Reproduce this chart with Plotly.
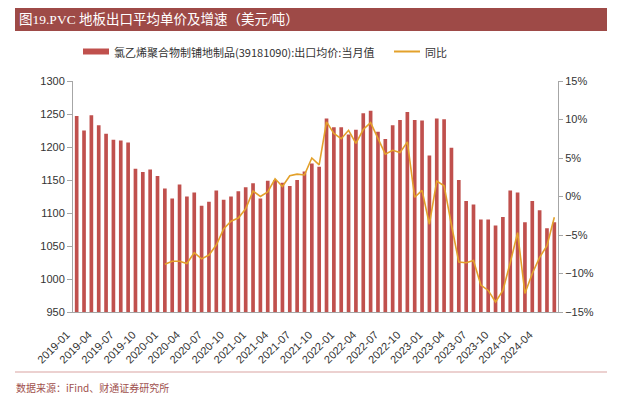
import plotly.graph_objects as go

# ---------------- data ----------------
months = [f"{y}-{m:02d}" for y in range(2019, 2025) for m in range(1, 13)][:66]

price = [1247, 1225, 1248, 1233, 1220, 1211, 1210, 1207, 1167, 1162, 1166, 1156,
         1137, 1122, 1143, 1125, 1131, 1111, 1117, 1134, 1120, 1125, 1133, 1139,
         1145, 1122, 1149, 1150, 1146, 1141, 1150, 1163, 1175, 1170, 1243, 1230,
         1230, 1219, 1226, 1251, 1255, 1223, 1212, 1233, 1241, 1253, 1241, 1240,
         1187, 1243, 1242, 1199, 1150, 1118, 1113, 1090, 1090, 1081, 1094, 1134,
         1131, 1086, 1118, 1104, 1077, 1086]

yoy = [None] * 12 + [
    -8.8, -8.4, -8.4, -8.7, -7.3, -8.1, -7.6, -6.3, -4.2, -3.2, -2.8, -1.6,
    0.7, 0.0, 0.6, 2.3, 1.3, 2.7, 2.9, 2.8, 5.0, 4.1, 9.7, 8.2,
    7.5, 8.6, 6.9, 8.7, 9.6, 7.5, 5.5, 6.0, 5.7, 7.1, -0.1, 0.8,
    -3.6, 2.0, 1.4, -3.7, -8.5, -8.6, -8.3, -11.5, -12.2, -13.7, -12.2, -8.6,
    -4.7, -12.6, -10.0, -7.9, -6.4, -2.7]

tick_labels = months[::3][:22]

bar_name = "氯乙烯聚合物制铺地制品(39181090):出口均价:当月值"
line_name = "同比"
title_text = "图19.PVC 地板出口平均单价及增速（美元/吨）"
source_text = "数据来源：iFind、财通证券研究所"

# ---------------- styling ----------------
W, H = 631, 399
ML, MR, MT, MB = 73, 73, 81, 87
PW, PH = W - ML - MR, H - MT - MB

BAR_COLOR = "#C0504D"
LINE_COLOR = "#E3A12B"
TITLE_BG = "#9E4A47"
AXIS_COLOR = "#A6A6A6"
TXT = "#333333"


def px(x):
    return (x - ML) / PW


def py(y):
    return (H - MB - y) / PH


fig = go.Figure()
fig.add_trace(go.Bar(x=months, y=price, name=bar_name, marker_color=BAR_COLOR,
                     marker_line_width=0, showlegend=False))
fig.add_trace(go.Scatter(x=months, y=yoy, name=line_name, yaxis="y2", mode="lines",
                         line=dict(color=LINE_COLOR, width=1.6), showlegend=False,
                         connectgaps=False))

fig.update_layout(
    width=W, height=H,
    margin=dict(l=ML, r=MR, t=MT, b=MB),
    paper_bgcolor="white", plot_bgcolor="white",
    bargap=0.5,
    font=dict(family="Liberation Sans, Arial, Noto Sans CJK SC", size=11, color=TXT),
    xaxis=dict(type="category", range=[-0.5, 65.5], tickmode="array",
               tickvals=tick_labels, ticktext=tick_labels, tickangle=-45,
               showline=True, linecolor=AXIS_COLOR, linewidth=1, ticks="",
               showgrid=False, zeroline=False, ticklabelshift=-10,
               ticklabelstandoff=11,
               tickfont=dict(size=11, color=TXT)),
    yaxis=dict(range=[950, 1300], dtick=50, showline=True, linecolor=AXIS_COLOR,
               ticks="outside", ticklen=5, tickcolor=AXIS_COLOR, showgrid=False,
               zeroline=False, tickfont=dict(size=11, color=TXT)),
    yaxis2=dict(range=[-15, 15], dtick=5, overlaying="y", side="right",
                ticksuffix="%", showline=True, linecolor=AXIS_COLOR,
                ticks="outside", ticklen=4, tickcolor=AXIS_COLOR, showgrid=False,
                zeroline=False, tickfont=dict(size=11, color=TXT)),
)

shapes = [
    # title band
    dict(type="rect", xref="paper", yref="paper", x0=px(15), x1=px(607),
         y0=py(31), y1=py(8), fillcolor=TITLE_BG, line_width=0, layer="below"),
    # bottom separator
    dict(type="line", xref="paper", yref="paper", x0=px(15), x1=px(607),
         y0=py(372), y1=py(372), line=dict(color="#D9A3A1", width=1)),
    # legend symbols
    dict(type="rect", xref="paper", yref="paper", x0=px(83), x1=px(109),
         y0=py(54.5), y1=py(48.5), fillcolor=BAR_COLOR, line_width=0),
    dict(type="line", xref="paper", yref="paper", x0=px(394), x1=px(420),
         y0=py(51.5), y1=py(51.5), line=dict(color=LINE_COLOR, width=2)),
]

annotations = [
    dict(text=title_text, xref="paper", yref="paper", x=px(17), y=py(19.5),
         xanchor="left", yanchor="middle", showarrow=False,
         font=dict(family="Liberation Serif, Noto Sans CJK SC", size=13.5, color="white")),
    dict(text=bar_name, xref="paper", yref="paper", x=px(112), y=py(51.5),
         xanchor="left", yanchor="middle", showarrow=False,
         font=dict(family="Noto Sans CJK SC", size=11, color=TXT)),
    dict(text=line_name, xref="paper", yref="paper", x=px(423), y=py(51.5),
         xanchor="left", yanchor="middle", showarrow=False,
         font=dict(family="Noto Sans CJK SC", size=11, color=TXT)),
    dict(text=source_text, xref="paper", yref="paper", x=px(14), y=py(387),
         xanchor="left", yanchor="middle", showarrow=False,
         font=dict(family="Noto Sans CJK SC", size=10, color="#A0504D")),
]

fig.update_layout(shapes=shapes, annotations=annotations)
fig.write_html("out.html",
               config={"displayModeBar": False},
               post_script="document.body.style.margin='0';document.body.style.overflow='hidden';")
